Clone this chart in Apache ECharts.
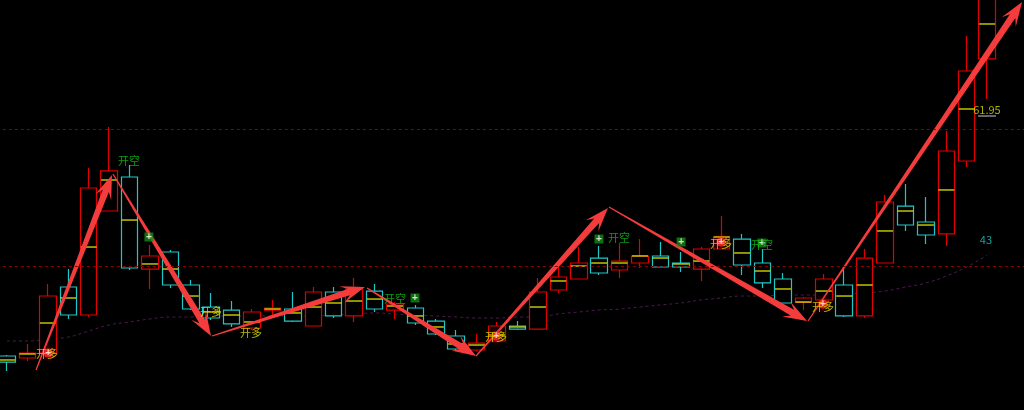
<!DOCTYPE html>
<html>
<head>
<meta charset="utf-8">
<script src="https://cdn.jsdelivr.net/npm/echarts@6/dist/echarts.min.js"></script>
<style>
html, body { margin: 0; padding: 0; background: #000; }
#kline { width: 1024px; height: 410px; }
</style>
</head>
<body>
<div id="kline"></div>
<script>
// K线 [开, 收, 低, 高]
var kData = [
    [25.90, 25.02, 23.71, 26.05],
    [25.61, 26.34, 25.17, 27.66],
    [26.34, 34.68, 26.05, 36.44],
    [36.00, 31.90, 31.32, 38.63],
    [31.90, 50.49, 31.61, 53.41],
    [47.12, 52.98, 47.12, 59.41],
    [52.10, 38.78, 38.49, 53.85],
    [38.63, 40.54, 35.71, 42.15],
    [41.12, 36.29, 35.85, 41.41],
    [36.29, 32.78, 32.63, 37.02],
    [33.07, 31.46, 31.17, 35.12],
    [32.63, 30.59, 30.15, 33.95],
    [30.00, 32.34, 29.71, 32.78],
    [32.63, 32.93, 31.90, 34.10],
    [32.78, 31.02, 30.88, 35.27],
    [30.29, 35.27, 30.29, 36.00],
    [35.27, 31.76, 31.46, 36.00],
    [31.76, 35.71, 30.88, 37.32],
    [35.41, 32.78, 32.34, 36.44],
    [32.63, 33.51, 31.32, 33.80],
    [32.93, 30.73, 30.44, 33.37],
    [31.02, 29.12, 28.98, 31.32],
    [28.83, 26.93, 26.63, 29.71],
    [26.78, 27.80, 26.63, 29.12],
    [28.10, 30.29, 27.95, 30.88],
    [30.29, 29.85, 29.71, 31.02],
    [29.85, 35.27, 29.85, 37.32],
    [35.56, 37.46, 35.12, 38.93],
    [37.17, 39.51, 37.17, 41.85],
    [40.24, 38.05, 37.76, 42.00],
    [38.49, 39.80, 37.32, 42.44],
    [39.51, 40.54, 38.78, 43.02],
    [40.54, 38.93, 38.93, 42.59],
    [39.51, 38.93, 38.20, 41.12],
    [38.63, 41.56, 36.88, 41.85],
    [41.56, 43.32, 41.56, 46.39],
    [43.02, 39.22, 37.76, 43.76],
    [39.51, 36.59, 35.85, 41.56],
    [37.17, 33.66, 33.66, 38.05],
    [33.80, 34.39, 32.63, 34.54],
    [34.10, 37.17, 34.10, 37.90],
    [36.29, 31.76, 31.61, 38.63],
    [31.76, 40.24, 31.46, 41.56],
    [39.51, 48.44, 39.51, 49.46],
    [47.85, 45.07, 44.20, 51.07],
    [45.51, 43.61, 42.29, 49.17],
    [43.76, 55.90, 42.00, 58.83],
    [54.44, 67.61, 53.56, 72.73],
    [69.37, 80.93, 63.51, 82.39]
];

// 每根K线里的黄线
var midPrice = [
    25.32, 26.20, 30.73, 34.39, 41.85, 51.66, 45.80, 39.37, 38.63, 34.68,
    32.34, 31.90, 30.88, 32.78, 32.20, 33.07, 33.66, 33.95, 34.24, 33.22,
    31.76, 30.15, 27.66, 27.51, 28.98, 30.15, 33.07, 36.88, 39.07, 39.51,
    39.51, 40.54, 40.24, 39.37, 39.80, 43.32, 40.98, 38.34, 35.71, 33.80,
    35.41, 34.68, 36.29, 44.20, 47.12, 45.07, 50.20, 62.05, 74.49
];

// 紫色均线
var maLine = [
    28.10, 28.10, 28.39, 28.68, 29.56, 30.44, 30.88, 31.32, 31.61, 31.61,
    31.76, 31.76, 31.76, 31.76, 31.76, 31.76, 31.90, 32.05, 32.20, 32.05,
    31.90, 31.76, 31.61, 31.46, 31.46, 31.61, 31.61, 32.05, 32.34, 32.63,
    32.78, 33.07, 33.37, 33.66, 34.10, 34.39, 34.68, 34.68, 34.83, 34.83,
    34.83, 34.98, 35.12, 35.41, 36.00, 36.59, 37.61, 38.93, 40.68
];

var guideLevels = [59.12, 39.07];

// 箭头 [起点序号, 起点价, 终点序号, 终点价]
var arrows = [
    [1.42, 23.85, 5.14, 52.39],
    [5.19, 52.54, 9.99, 28.83],
    [10.04, 28.83, 17.53, 36.00],
    [17.63, 35.85, 22.97, 25.90],
    [22.97, 25.90, 29.43, 47.56],
    [29.48, 47.71, 39.18, 31.02],
    [39.23, 31.02, 49.71, 77.71]
];

var longTags = [[1.96, 26.20], [9.99, 32.34], [11.95, 29.27], [23.95, 28.68], [34.97, 42.29], [39.96, 33.07]];
var shortTags = [[5.97, 54.44], [19.0, 34.24], [29.97, 43.17], [36.97, 42.15]];
var buyDots = [[2.01, 26.34], [23.95, 28.83], [34.97, 42.59], [39.96, 33.51]];
var sellDots = [[6.95, 43.32], [19.98, 34.39], [28.99, 43.02], [33.01, 42.59], [36.97, 42.44]];
var priceTag = [47.99, 61.90, '61.95'];
var maTag = [47.94, 42.88, '43'];

var days = [];
for (var i = 0; i < 51; i++) days.push(String(i + 1));

var chart = echarts.init(document.getElementById('kline'));

function renderArrow(params, api) {
    var p0 = api.coord([api.value(0), api.value(1)]);
    var p1 = api.coord([api.value(2), api.value(3)]);
    var dx = p1[0] - p0[0], dy = p1[1] - p0[1];
    var len = Math.sqrt(dx * dx + dy * dy);
    var ux = dx / len, uy = dy / len, nx = -uy, ny = ux;
    function pt(a, s) { return [p0[0] + ux * a + nx * s, p0[1] + uy * a + ny * s]; }
    return {
        type: 'polygon',
        shape: { points: [pt(0, 0.6), pt(len - 17, 3.3), pt(len - 24, 8.5), pt(len, 0),
                          pt(len - 24, -8.5), pt(len - 17, -3.3), pt(0, -0.6)] },
        style: { fill: '#f53c3c' }
    };
}

function renderMid(params, api) {
    var c = api.coord([api.value(0), api.value(1)]);
    var half = 8;
    return {
        type: 'line',
        shape: { x1: c[0] - half, y1: c[1], x2: c[0] + half, y2: c[1] },
        style: { stroke: '#e0e000', lineWidth: 1.3 }
    };
}

// 61.95 下面那道灰线
function renderUnderline(params, api) {
    var c = api.coord([api.value(0), api.value(1)]);
    return {
        type: 'line',
        shape: { x1: c[0] - 9, y1: c[1] + 6, x2: c[0] + 9, y2: c[1] + 6 },
        style: { stroke: '#8a8a8a', lineWidth: 1.5 }
    };
}

function tagSeries(data, text, color, z) {
    return {
        type: 'scatter', xAxisIndex: 1, data: data, symbolSize: 1, z: z,
        itemStyle: { color: 'rgba(0,0,0,0)' },
        label: { show: true, position: 'inside', formatter: text, color: color,
                 fontSize: 11, fontFamily: 'Noto Sans CJK SC' }
    };
}

chart.setOption({
    backgroundColor: '#000',
    animation: false,
    grid: { left: -3.2, right: -14.2, top: 0, bottom: 0, outerBoundsMode: 'none', containLabel: false },
    xAxis: [
        { type: 'category', data: days, boundaryGap: true, show: false },
        { type: 'value', min: -0.5, max: 50.5, show: false }
    ],
    yAxis: { type: 'value', min: 18, max: 78, show: false },
    series: [
        {
            type: 'line', data: maLine, symbol: 'none', smooth: true, z: 1,
            lineStyle: { color: '#4e1a4e', width: 1, type: [3, 3] },
            markLine: {
                silent: true, symbol: 'none', label: { show: false },
                lineStyle: { color: '#8c0000', width: 1, type: [3, 3] },
                data: guideLevels.map(function (v) { return { yAxis: v }; })
            }
        },
        {
            type: 'candlestick', data: kData, barWidth: 17, z: 2,
            itemStyle: { color: '#000', color0: '#000', borderColor: '#e00000',
                         borderColor0: '#1ec8c8', borderWidth: 1.2 }
        },
        {
            type: 'custom', xAxisIndex: 1, z: 3, renderItem: renderMid,
            encode: { x: 0, y: 1 },
            data: midPrice.map(function (v, i) { return [i, v]; })
        },
        {
            type: 'custom', xAxisIndex: 1, z: 4, clip: false, renderItem: renderArrow,
            encode: { x: [0, 2], y: [1, 3] }, data: arrows
        },
        {
            type: 'scatter', xAxisIndex: 1, data: buyDots, symbol: 'circle', symbolSize: 9, z: 5,
            itemStyle: { color: '#ff2a2a', shadowBlur: 6, shadowColor: '#ff0000' },
            label: { show: true, position: 'inside', formatter: '+', color: '#fff', fontSize: 10, fontWeight: 'bold' }
        },
        {
            type: 'scatter', xAxisIndex: 1, data: sellDots, symbol: 'rect', symbolSize: 9, z: 5,
            itemStyle: { color: '#138a13' },
            label: { show: true, position: 'inside', formatter: '+', color: '#fff', fontSize: 10, fontWeight: 'bold' }
        },
        tagSeries(longTags, '开多', '#e0e000', 6),
        tagSeries(shortTags, '开空', '#10c010', 6),
        tagSeries([priceTag], '{@[2]}', '#d8d800', 6),
        tagSeries([maTag], '{@[2]}', '#1ec8c8', 6),
        {
            type: 'custom', xAxisIndex: 1, z: 6, renderItem: renderUnderline,
            encode: { x: 0, y: 1 }, data: [priceTag.slice(0, 2)]
        }
    ]
});
</script>
</body>
</html>
